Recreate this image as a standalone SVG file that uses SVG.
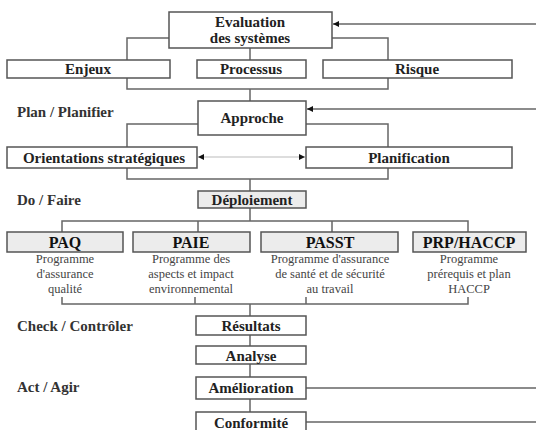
<svg xmlns="http://www.w3.org/2000/svg" width="536" height="430" viewBox="0 0 536 430">
<defs>
<marker id="ah" viewBox="0 0 10 10" refX="10" refY="5" markerWidth="6" markerHeight="6" markerUnits="userSpaceOnUse" orient="auto-start-reverse">
<path d="M0,0 L10,5 L0,10 z" fill="#111"/>
</marker>
<style>
.box{fill:#fff;stroke:#555;stroke-width:1.5}
.gbox{fill:#ececec;stroke:#555;stroke-width:1.5}
.lbl{font-family:"Liberation Serif",serif;font-weight:bold;font-size:15px;fill:#222;text-anchor:middle}
.ttl{font-family:"Liberation Serif",serif;font-weight:bold;font-size:16px;fill:#111;text-anchor:middle}
.desc{font-family:"Liberation Serif",serif;font-size:12.5px;fill:#444;text-anchor:middle}
.stage{font-family:"Liberation Serif",serif;font-weight:bold;font-size:15px;fill:#333}
.ln{fill:none;stroke:#666;stroke-width:1.5}
.lt{fill:none;stroke:#bbb;stroke-width:1.2}
</style>
</defs>
<rect width="536" height="430" fill="#fff"/>

<g id="connectors">
<path class="ln" d="M169,38 H127 V60 M332,38 H388 V60 M250,48 V60"/>
<path class="ln" d="M127,78 V89 H388 V78 M250,89 V101"/>
<path class="ln" d="M536,24 H333" marker-end="url(#ah)"/>
<path class="ln" d="M536,109 H307" marker-end="url(#ah)"/>
<path class="ln" d="M198,124 H127 V147 M306,124 H388 V147"/>
<path class="lt" d="M198,157 H305" marker-start="url(#ah)" marker-end="url(#ah)"/>
<path class="ln" d="M127,168 V179 H388 V168 M250,179 V191"/>
<path class="ln" d="M250,208 V221 M62,232 V221 H468 V232 M198,221 V232 M332,221 V232"/>
<path class="ln" d="M62,297 V304 H468 V297 M195,297 V304 M306,297 V304 M250,304 V316"/>
<path class="ln" d="M250,335 V346 M250,364 V377 M250,399 V412"/>
<path class="ln" d="M306,388 H536 M306,422 H536"/>
</g>

<g id="evaluation"><rect class="box" x="169" y="12" width="163" height="36"/><text class="lbl" x="250" y="27">Evaluation</text><text class="lbl" x="250" y="43">des systèmes</text></g>
<g id="enjeux"><rect class="box" x="7" y="60" width="163" height="18"/><text class="lbl" x="88" y="74">Enjeux</text></g>
<g id="processus"><rect class="box" x="197" y="60" width="109" height="18"/><text class="lbl" x="251" y="74">Processus</text></g>
<g id="risque"><rect class="box" x="323" y="60" width="189" height="18"/><text class="lbl" x="417" y="74">Risque</text></g>

<g id="stage-plan"><text class="stage" x="17" y="117">Plan / Planifier</text></g>
<g id="approche"><rect class="box" x="198" y="101" width="108" height="34"/><text class="lbl" x="252" y="123">Approche</text></g>
<g id="orientations"><rect class="box" x="7" y="147" width="190" height="21"/><text class="lbl" x="104" y="163">Orientations stratégiques</text></g>
<g id="planification"><rect class="box" x="306" y="147" width="206" height="21"/><text class="lbl" x="409" y="163">Planification</text></g>

<g id="stage-do"><text class="stage" x="17" y="205">Do / Faire</text></g>
<g id="deploiement"><rect class="gbox" x="198" y="191" width="108" height="17"/><text class="lbl" x="252" y="205">Déploiement</text></g>

<g id="paq"><rect class="gbox" x="7" y="232" width="116" height="20"/><text class="ttl" x="65" y="248">PAQ</text>
<text class="desc" x="65" y="263">Programme</text><text class="desc" x="65" y="278">d'assurance</text><text class="desc" x="65" y="293">qualité</text></g>
<g id="paie"><rect class="gbox" x="133" y="232" width="117" height="20"/><text class="ttl" x="191" y="248">PAIE</text>
<text class="desc" x="191" y="263">Programme des</text><text class="desc" x="191" y="278">aspects et impact</text><text class="desc" x="191" y="293">environnemental</text></g>
<g id="passt"><rect class="gbox" x="261" y="232" width="137" height="20"/><text class="ttl" x="330" y="248">PASST</text>
<text class="desc" x="330" y="263">Programme d'assurance</text><text class="desc" x="330" y="278">de santé et de sécurité</text><text class="desc" x="330" y="293">au travail</text></g>
<g id="prp"><rect class="gbox" x="413" y="232" width="113" height="20"/><text class="ttl" x="469" y="248">PRP/HACCP</text>
<text class="desc" x="469" y="263">Programme</text><text class="desc" x="469" y="278">prérequis et plan</text><text class="desc" x="469" y="293">HACCP</text></g>

<g id="stage-check"><text class="stage" x="17" y="331">Check / Contrôler</text></g>
<g id="resultats"><rect class="box" x="196" y="316" width="110" height="19"/><text class="lbl" x="251" y="331">Résultats</text></g>
<g id="analyse"><rect class="box" x="196" y="346" width="110" height="18"/><text class="lbl" x="251" y="361">Analyse</text></g>
<g id="stage-act"><text class="stage" x="17" y="392">Act / Agir</text></g>
<g id="amelioration"><rect class="box" x="196" y="377" width="110" height="22"/><text class="lbl" x="251" y="393">Amélioration</text></g>
<g id="conformite"><rect class="box" x="196" y="412" width="110" height="22"/><text class="lbl" x="251" y="428">Conformité</text></g>
</svg>
